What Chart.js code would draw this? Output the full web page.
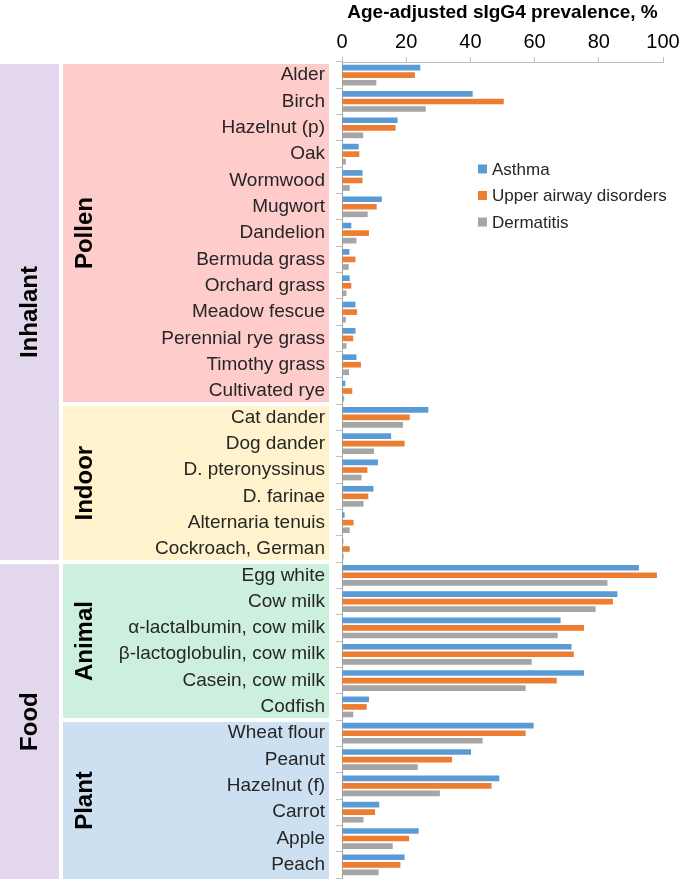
<!DOCTYPE html>
<html>
<head>
<meta charset="utf-8">
<script src="https://cdn.jsdelivr.net/npm/chart.js@4"></script>
<style>
  body { margin: 0; background: #fff; }
  #wrap { width: 685px; height: 879px; position: relative; }
</style>
</head>
<body>
<div id="wrap"><canvas id="myChart"></canvas></div>
<script>
// allergens, top to bottom
let categories = ['Alder', 'Birch', 'Hazelnut (p)', 'Oak', 'Wormwood', 'Mugwort', 'Dandelion',
    'Bermuda grass', 'Orchard grass', 'Meadow fescue', 'Perennial rye grass', 'Timothy grass',
    'Cultivated rye', 'Cat dander', 'Dog dander', 'D. pteronyssinus', 'D. farinae',
    'Alternaria tenuis', 'Cockroach, German', 'Egg white', 'Cow milk',
    'α-lactalbumin, cow milk', 'β-lactoglobulin, cow milk', 'Casein, cow milk', 'Codfish',
    'Wheat flour', 'Peanut', 'Hazelnut (f)', 'Carrot', 'Apple', 'Peach'];

let asthma = [24.4, 40.7, 17.3, 5.2, 6.4, 12.4, 2.9, 2.3, 2.4, 4.2, 4.2, 4.5, 1.0,
    26.9, 15.3, 11.2, 9.8, 0.8, 0.4,
    92.5, 85.8, 68.1, 71.5, 75.4, 8.4,
    59.7, 40.2, 49.0, 11.6, 23.9, 19.5];
let upperAirway = [22.7, 50.4, 16.7, 5.4, 6.4, 10.8, 8.4, 4.2, 2.9, 4.7, 3.5, 5.9, 3.2,
    21.1, 19.5, 7.9, 8.2, 3.6, 2.4,
    98.1, 84.4, 75.4, 72.2, 66.9, 7.7,
    57.2, 34.3, 46.6, 10.3, 20.9, 18.2];
let dermatitis = [10.7, 26.1, 6.6, 1.2, 2.4, 8.0, 4.5, 2.1, 1.4, 1.2, 1.4, 2.2, 0.7,
    19.0, 10.0, 6.1, 6.7, 2.4, 0.5,
    82.7, 79.0, 67.2, 59.1, 57.2, 3.5,
    43.8, 23.6, 30.5, 6.7, 15.8, 11.4];

let seriesNames = ['Asthma', 'Upper airway disorders', 'Dermatitis'];

// groups (number of categories in each)
let mainGroups = ['Inhalant', 'Food'];
let mainGroupSizes = [19, 12];
let subGroups = ['Pollen', 'Indoor', 'Animal', 'Plant'];
let subGroupSizes = [13, 6, 6, 6];

let xTicks = [0, 20, 40, 60, 80, 100];

const FONT = "'Liberation Sans', Arial, sans-serif";
let seriesColors = ['#5b9bd5', '#ed7d31', '#a5a5a5'];
let subColors = ['#ffcccc', '#fff2cc', '#cdefdd', '#cde0f1'];
let mainColor = '#e2d7ec';

function drawGroups(chart, names, sizes, colors, x0, x1, labelX) {
    const ctx = chart.ctx;
    const yS = chart.scales.y;
    const half = (yS.getPixelForValue(1) - yS.getPixelForValue(0)) / 2;
    let start = 0;
    names.forEach((name, i) => {
        const end = start + sizes[i] - 1;
        let top = yS.getPixelForValue(start) - half + 2;
        let bottom = yS.getPixelForValue(end) + half - 2;
        if (i == names.length - 1) bottom = chart.height;
        ctx.fillStyle = Array.isArray(colors) ? colors[i] : colors;
        ctx.fillRect(x0, top, x1 - x0, bottom - top);
        ctx.save();
        ctx.translate(labelX, (top + bottom) / 2);
        ctx.rotate(-Math.PI / 2);
        ctx.fillStyle = '#000';
        ctx.font = 'bold 24px ' + FONT;
        ctx.textAlign = 'center';
        ctx.textBaseline = 'middle';
        ctx.fillText(name, 0, 0);
        ctx.restore();
        start += sizes[i];
    });
}

const groupBoxes = {
    id: 'groupBoxes',
    beforeDraw(chart) {
        drawGroups(chart, mainGroups, mainGroupSizes, mainColor, 0, 59, 30);
        drawGroups(chart, subGroups, subGroupSizes, subColors, 63, 329, 85);
    }
};

const cornerLegend = {
    id: 'cornerLegend',
    afterDraw(chart) {
        const ctx = chart.ctx;
        ctx.save();
        ctx.font = '17px ' + FONT;
        ctx.textBaseline = 'middle';
        chart.data.datasets.forEach((ds, i) => {
            const y = 169 + i * 26.5;
            ctx.fillStyle = ds.backgroundColor;
            ctx.fillRect(478, y - 4.5, 9, 9);
            ctx.fillStyle = '#262626';
            ctx.fillText(ds.label, 492, y + 1);
        });
        ctx.restore();
    }
};

let datasets = [asthma, upperAirway, dermatitis].map((vals, i) => ({
    label: seriesNames[i],
    data: vals,
    backgroundColor: seriesColors[i],
    borderWidth: 0,
    categoryPercentage: 0.86,
    barPercentage: 0.75
}));

var ctx = document.getElementById('myChart').getContext('2d');
var chart = new Chart(ctx, {
    type: 'bar',
    data: { labels: categories, datasets: datasets },
    options: {
        indexAxis: 'y',
        responsive: true,
        maintainAspectRatio: false,
        animation: false,
        layout: { padding: { left: 0, right: 22, top: 0, bottom: 1 } },
        plugins: {
            legend: { display: false },
            tooltip: { enabled: false }
        },
        scales: {
            x: {
                position: 'top',
                min: 0,
                max: 100,
                afterBuildTicks: s => { s.ticks = xTicks.map(v => ({ value: v })); },
                afterFit: s => { s.height = 62; },
                ticks: {
                    font: { family: FONT, size: 20 },
                    color: '#000',
                    padding: 3,
                    maxRotation: 0
                },
                grid: { drawOnChartArea: false, tickLength: 5, color: '#bfbfbf' },
                border: { color: '#bfbfbf' },
                title: {
                    display: true,
                    text: 'Age-adjusted sIgG4 prevalence, %',
                    font: { family: FONT, size: 19, weight: 'bold' },
                    color: '#000',
                    padding: { top: 1, bottom: 0 }
                }
            },
            y: {
                afterFit: s => { s.width = 342; s.paddingTop = 0; s.paddingBottom = 0; },
                ticks: {
                    font: { family: FONT, size: 19 },
                    color: '#262626',
                    padding: 11,
                    autoSkip: false
                },
                grid: { drawOnChartArea: false, tickLength: 6, color: '#bfbfbf', offset: true },
                border: { color: '#a6a6a6' }
            }
        }
    },
    plugins: [groupBoxes, cornerLegend]
});
</script>
</body>
</html>
